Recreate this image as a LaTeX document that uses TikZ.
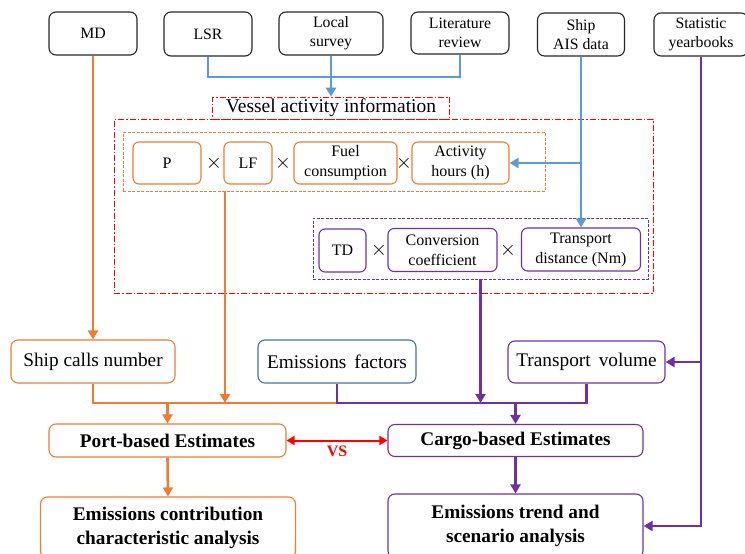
\documentclass[tikz,border=0pt]{standalone}
\usepackage{fontspec}
\setmainfont{Liberation Serif}
\usepackage{xcolor}
\usetikzlibrary{arrows.meta}
\definecolor{orng}{HTML}{ED7D31}
\definecolor{lblue}{HTML}{5B9BD5}
\definecolor{dblue}{HTML}{41719C}
\definecolor{purp}{HTML}{7030A0}

\begin{document}
\begin{tikzpicture}[x=1pt, y=-1pt,
    box/.style={draw, rounded corners=7pt, line width=1.1pt, align=center, inner sep=1pt},
    src/.style={box, draw=black!85, font=\fontsize{15.8}{19}\selectfont},
    inner/.style={box, rounded corners=6pt, font=\fontsize{16}{20}\selectfont},
    mid/.style={box, font=\fontsize{19.3}{22}\selectfont},
    res/.style={box, font=\bfseries\fontsize{19.3}{24}\selectfont},
    frame/.style={draw, line width=0.8pt, inner sep=0pt},
    dashdot/.style={dash pattern=on 6pt off 2pt on 1.5pt off 2pt},
    tms/.style={font=\fontsize{22}{22}\selectfont},
    conn/.style={line width=2.6pt},
    arr/.style={conn, -{Triangle[length=9pt,width=10pt]}}]
    \useasboundingbox (0,0) rectangle (745,554);

    \node[src, minimum width=88pt, minimum height=43pt] (md) at (93,33.5) {MD};
    \node[src, minimum width=88pt, minimum height=44pt] (lsr) at (208,34) {LSR};
    \node[src, minimum width=104pt, minimum height=43pt] (local) at (331,33.5) {Local\\survey};
    \node[src, minimum width=98pt, minimum height=42pt] (lit) at (460,33) {Literature\\review};
    \node[src, minimum width=87pt, minimum height=43pt] (ais) at (581,34.5) {Ship\\AIS data};
    \node[src, minimum width=94pt, minimum height=43pt] (stat) at (701,34.5) {Statistic\\yearbooks};

    \node[frame, red, dashdot, minimum width=539pt, minimum height=174pt] (vbox) at (383.5,206) {};
    \node[frame, red, dashdot, fill=white, text=black, minimum width=237pt, minimum height=22pt,
        font=\fontsize{19.5}{20}\selectfont] (vai) at (331,108) {Vessel activity information};

    \node[frame, orng, dashed, dash pattern=on 3pt off 1.5pt, minimum width=422pt, minimum height=59pt] (obox) at (334,161.5) {};
    \node[inner, orng, text=black, minimum width=68pt, minimum height=42pt] (p) at (167,163) {P};
    \node[inner, orng, text=black, minimum width=48pt, minimum height=42pt] (lf) at (248,163) {LF};
    \node[inner, orng, text=black, minimum width=103pt, minimum height=42pt] (fuel) at (345.5,163) {Fuel\\consumption};
    \node[inner, orng, text=black, minimum width=97pt, minimum height=42pt] (act) at (460.5,163) {Activity\\hours (h)};
    \node[tms] (x1) at (214,163) {$\times$};
    \node[tms] (x2) at (283,163) {$\times$};
    \node[tms] (x3) at (404,163) {$\times$};

    \node[frame, purp, dashed, dash pattern=on 3pt off 1.5pt, minimum width=335pt, minimum height=61pt] (pbox) at (480.5,248.5) {};
    \node[inner, purp, text=black, minimum width=47pt, minimum height=43pt] (td) at (342.5,250.5) {TD};
    \node[inner, purp, text=black, minimum width=109pt, minimum height=43pt] (conv) at (442.5,250) {Conversion\\coefficient};
    \node[inner, purp, text=black, minimum width=119pt, minimum height=43pt] (tdist) at (581,249.5) {Transport\\distance (Nm)};
    \node[tms] (x4) at (379,250) {$\times$};
    \node[tms] (x5) at (508,250) {$\times$};

    \node[mid, orng, text=black, minimum width=164pt, minimum height=43pt] (calls) at (93,361.5) {Ship calls number};
    \node[mid, dblue, text=black, minimum width=158pt, minimum height=43pt] (ef) at (337,361.5) {Emissions\, factors};
    \node[mid, purp, text=black, minimum width=157pt, minimum height=42pt] (tv) at (586.5,362) {Transport\, volume};

    \node[res, orng, text=black, minimum width=237pt, minimum height=33pt] (port) at (167.5,440.5) {Port-based Estimates};
    \node[res, purp, text=black, minimum width=255pt, minimum height=32pt] (cargo) at (515.5,440.5) {Cargo-based Estimates};

    \node[res, orng, text=black, minimum width=255pt, minimum height=61pt] (contrib) at (168,527.5) {Emissions contribution\\characteristic analysis};
    \node[res, purp, text=black, minimum width=255pt, minimum height=64pt] (trend) at (515.5,526) {Emissions trend and\\scenario analysis};

    \coordinate (bus) at (331,77);
    \coordinate (oj) at (225,403);
    \coordinate (hb) at (337,403);

    \draw[conn, lblue] (lsr.south) |- (bus) -| (lit.south);
    \draw[arr, lblue] (local.south) -- (vai.north);
    \draw[arr, lblue] (ais.south) -- (tdist.north);
    \draw[arr, lblue] (ais.south |- act.east) -- (act.east);

    \draw[arr, orng] (md.south) -- (calls.north);
    \draw[arr, orng] (obox.south -| oj) -- (oj);
    \draw[conn, orng] (calls.south) |- (hb);
    \draw[arr, orng] (port.north |- hb) -- (port.north);
    \draw[arr, orng] (port.south) -- (contrib.north);

    \draw[arr, purp] (pbox.south) -- (pbox.south |- hb);
    \draw[conn, purp] (ef.south) -- (hb) -| (tv.south);
    \draw[arr, purp] (cargo.north |- hb) -- (cargo.north);
    \draw[arr, purp] (cargo.south) -- (trend.north);
    \draw[arr, purp] (stat.south) |- (trend.east);
    \draw[arr, purp] (stat.south |- tv.east) -- (tv.east);

    \draw[line width=2pt, red, {Triangle[length=8pt,width=9pt]}-{Triangle[length=8pt,width=9pt]}] (port.east) -- (cargo.west)
        node[midway, below=1pt, font=\bfseries\fontsize{16}{16}\selectfont] {VS};
\end{tikzpicture}
\end{document}
